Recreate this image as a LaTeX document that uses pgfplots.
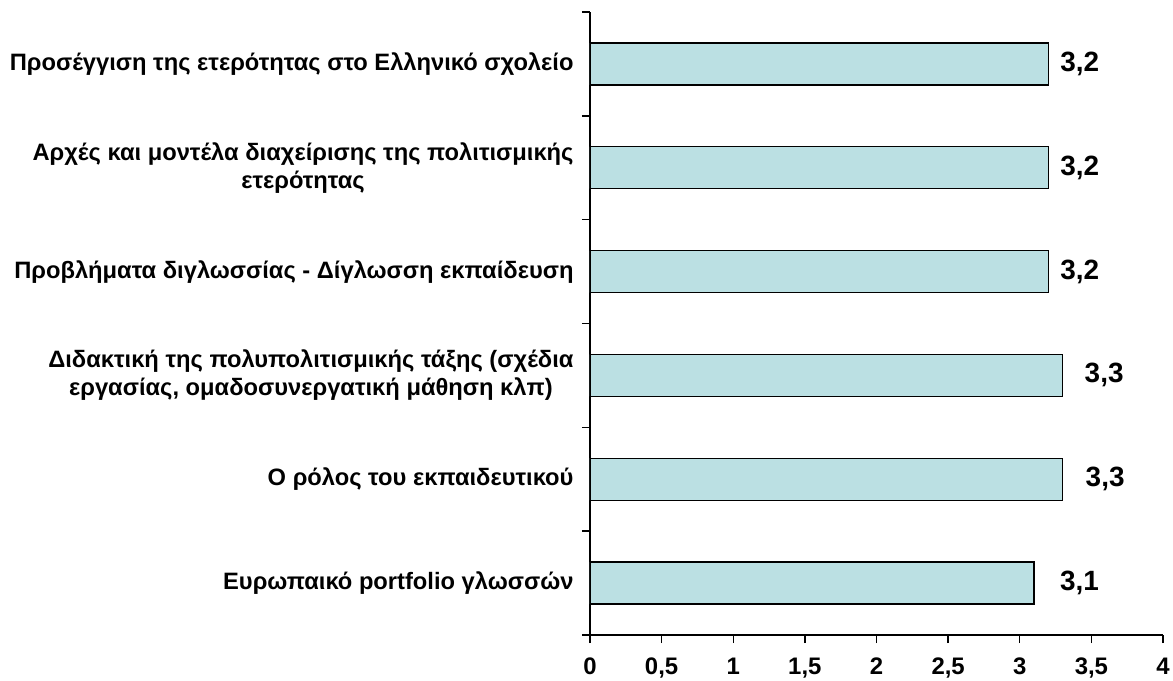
\documentclass[border=0pt]{standalone}
\usepackage{fontspec}
\setmainfont{Liberation Sans}
\usepackage{pgfplots}
\usepackage{pgfplotstable}
\pgfplotsset{compat=1.18}
\definecolor{barfill}{RGB}{187,224,227}

% y = category position (bottom to top), x = mean score, dx = label offset
\pgfplotstableread{
y   x   dx
5.5 3.2 8
4.5 3.2 8
3.5 3.2 8
2.5 3.3 18
1.5 3.3 19
0.5 3.1 22
}\scores

\begin{document}
\begin{tikzpicture}
\begin{axis}[
  scale only axis, width=573bp, height=623bp,
  xbar, bar width=42bp,
  xmin=0, xmax=4, ymin=0, ymax=6,
  axis x line*=bottom, axis y line*=left,
  axis line style={line width=1.4bp},
  tick style={line width=1.4bp, black},
  tick align=outside, major tick length=8bp,
  xtick={0,0.5,...,4},
  ytick={0,1,...,6},
  y tick label as interval,
  yticklabels={{Ευρωπαικό portfolio γλωσσών},
    {Ο ρόλος του εκπαιδευτικού},
    {Διδακτική της πολυπολιτισμικής τάξης (σχέδια\\εργασίας, ομαδοσυνεργατική μάθηση κλπ)},
    {Προβλήματα διγλωσσίας - Δίγλωσση εκπαίδευση},
    {Αρχές και μοντέλα διαχείρισης της πολιτισμικής\\ετερότητας},
    {Προσέγγιση της ετερότητας στο Ελληνικό σχολείο}},
  yticklabel style={align=center, xshift=-5bp, font=\fontsize{23.8}{28}\selectfont\bfseries},
  xticklabel style={font=\fontsize{24}{28}\selectfont\bfseries, anchor=north,
    text height=17bp, text depth=5bp, yshift=-11bp},
  /pgf/number format/assume math mode=true,
  /pgf/number format/use comma,
  visualization depends on={\thisrow{dx} \as \dx},
  nodes near coords={\pgfmathprintnumber[fixed,precision=1,use comma]{\pgfplotspointmeta}},
  nodes near coords style={anchor=west, xshift=\dx bp, font=\fontsize{28}{32}\selectfont\bfseries},
]
\addplot[fill=barfill, draw=black, line width=1.4bp] table[x=x, y=y] {\scores};
\end{axis}
\pgfresetboundingbox
\path (-590bp,-46bp) rectangle (583bp,635bp);
\end{tikzpicture}
\end{document}
